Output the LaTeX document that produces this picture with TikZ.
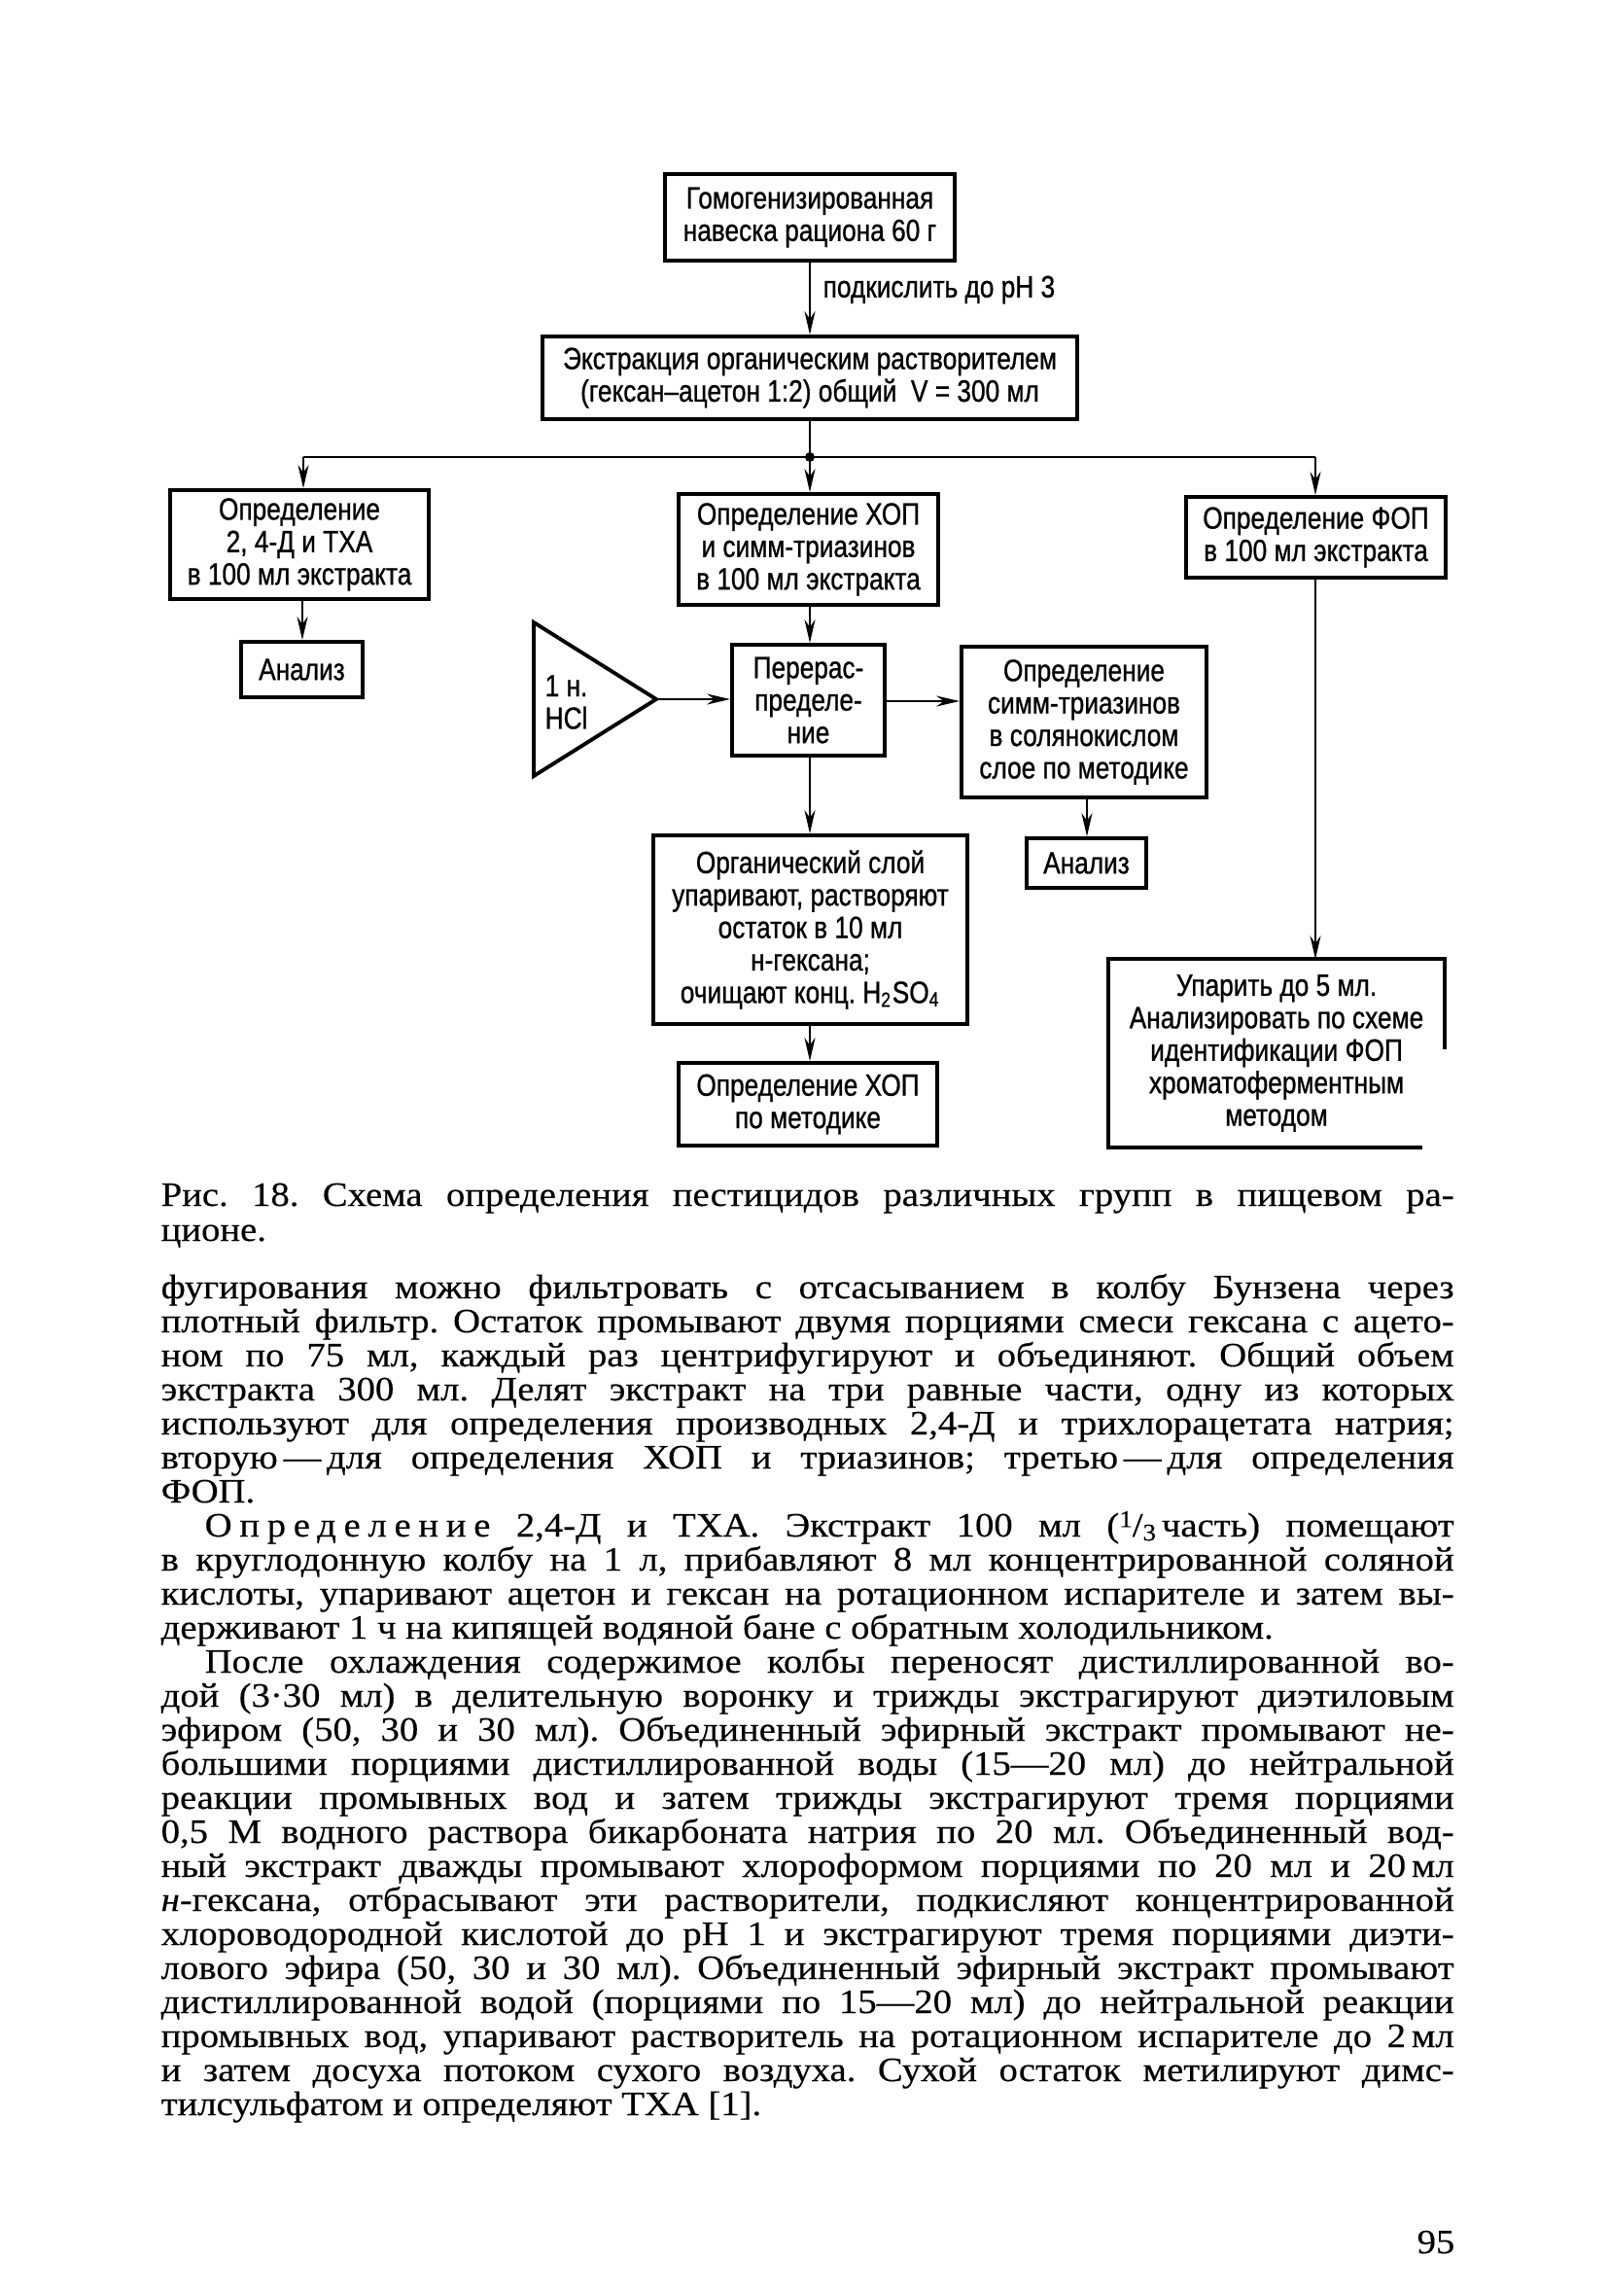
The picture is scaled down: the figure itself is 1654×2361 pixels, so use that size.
\documentclass[tikz,border=0pt]{standalone}
\usepackage{fontspec}
\setmainfont{Liberation Serif}
\newfontfamily\dgfont{Liberation Sans}[FakeStretch=0.83,FakeBold=0.8]
\newfontfamily\bodyfont{Liberation Serif}[FakeStretch=1.1,FakeBold=0.3]
\usetikzlibrary{arrows.meta,calc}
\frenchspacing
\newcommand\dgsize{\fontsize{9}{9.5}\selectfont}
\newcommand\bodysize{\fontsize{10}{12}\selectfont\frenchspacing}
\newcommand\jl[1]{\makebox[133mm][s]{#1}}
\tikzset{
  box/.style={draw, line width=1.1pt, inner sep=0pt, align=center, font=\dgfont\dgsize},
  plainbox/.style={inner sep=0pt, align=center, font=\dgfont\dgsize},
  boxline/.style={line width=1.1pt},
  arr/.style={line width=0.6pt, -{Stealth[length=2.4mm,width=1.1mm]}},
  ln/.style={line width=0.6pt},
  txt/.style={inner sep=0pt, anchor=base west, font=\bodyfont\bodysize},
  dglabel/.style={inner sep=0pt, font=\dgfont\dgsize},
}
\begin{document}
\begin{tikzpicture}[x=0.1mm, y=-0.1mm]
\useasboundingbox (0,0) rectangle (1654,2361);
\fill[white] (0,0) rectangle (1654,2361);

% ---------- boxes ----------
\node[box, minimum width=29.8mm, minimum height=8.9mm] (b1) at (833,223.5) {Гомогенизированная\\навеска рациона 60 г};
\node[box, minimum width=55mm, minimum height=8.5mm] (b2) at (833,388.5) {Экстракция органическим растворителем\\(гексан–ацетон 1:2) общий \ V = 300 мл};
\node[box, minimum width=26.6mm, minimum height=11.2mm] (bL) at (308,560) {Определение\\2, 4-Д и ТХА\\в 100 мл экстракта};
\node[box, minimum width=26.7mm, minimum height=11.4mm] (bM) at (831.5,565) {Определение ХОП\\и симм-триазинов\\в 100 мл экстракта};
\node[box, minimum width=26.7mm, minimum height=8.3mm] (bR) at (1353.5,552.5) {Определение ФОП\\в 100 мл экстракта};
\node[box, minimum width=12.5mm, minimum height=5.7mm] (aL) at (310.5,688.5) {Анализ};
\node[box, minimum width=15.7mm, minimum height=11.4mm] (bP) at (831.5,720) {Перерас-\\пределе-\\ние};
\node[box, minimum width=25.2mm, minimum height=15.5mm] (bS) at (1115,742.5) {Определение\\симм-триазинов\\в солянокислом\\слое по методике};
\node[box, minimum width=12.3mm, minimum height=5.1mm] (aM) at (1117.5,887.5) {Анализ};
\node[box, minimum width=32.3mm, minimum height=19.4mm] (bO) at (833.5,956) {Органический слой\\упаривают, растворяют\\остаток в 10 мл\\н-гексана;\\очищают конц. H\textsubscript{2}SO\textsubscript{4}};
\node[box, minimum width=26.6mm, minimum height=8.5mm] (bX) at (831,1135.5) {Определение ХОП\\по методике};
\node[plainbox, minimum width=34.4mm, minimum height=19.2mm] (bF) at (1313,1083) {Упарить до 5 мл.\\Анализировать по схеме\\идентификации ФОП\\хроматоферментным\\методом};
\draw[boxline] ([xshift=-2.3mm]bF.south east) -- (bF.south west) -- (bF.north west) -- (bF.north east) -- ([yshift=10.1mm]bF.south east);

% triangle 1 н. HCl
\draw[line width=1.1pt] (549,640) -- (549,798) -- (675,719) -- cycle;
\coordinate (tip) at (675,719);
\node[dglabel, anchor=west, align=left] (hcl) at (560,722) {1 н.\\HCl};

% ---------- connectors ----------
\node[dglabel, anchor=west] (acid) at (846,298) {подкислить до pH 3};
\draw[arr] (b1.south) -- (b2.north);
\coordinate (jM) at (833,470);
\coordinate (jL) at (312,470);
\coordinate (jR) at (1353,470);
\draw[ln] (b2.south) -- (jM);
\draw[ln] (jL) -- (jR);
\fill (jM) circle (0.5mm);
\draw[arr] (jL) -- (jL |- bL.north);
\draw[arr] (jM) -- (jM |- bM.north);
\draw[arr] (jR) -- (jR |- bR.north);
\coordinate (cL) at (311,616);
\draw[arr] (cL |- bL.south) -- (cL |- aL.north);
\draw[arr] (bM.south -| jM) -- (jM |- bP.north);
\draw[arr] (tip) -- (tip -| bP.west);
\coordinate (cP) at (910,721);
\draw[arr] (cP -| bP.east) -- (cP -| bS.west);
\coordinate (cS) at (1118,820);
\draw[arr] (cS |- bS.south) -- (cS |- aM.north);
\draw[arr] (bP.south -| jM) -- (jM |- bO.north);
\draw[arr] (bO.south -| jM) -- (jM |- bX.north);
\draw[arr] (bR.south -| jR) -- (jR |- bF.north);

% ---------- caption ----------
\node[txt] (cap1) at (165,1240) {\jl{Рис. 18. Схема определения пестицидов различных групп в пищевом ра-}};
\node[txt] (cap2) at (165,1276) {ционе.};

% ---------- body text ----------
\node[txt] (l1) at (165,1335) {\jl{фугирования можно фильтровать с отсасыванием в колбу Бунзена через}};
\node[txt] (l2) at (165,1370) {\jl{плотный фильтр. Остаток промывают двумя порциями смеси гексана с ацето-}};
\node[txt] (l3) at (165,1405) {\jl{ном по 75 мл, каждый раз центрифугируют и объединяют. Общий объем}};
\node[txt] (l4) at (165,1440) {\jl{экстракта 300 мл. Делят экстракт на три равные части, одну из которых}};
\node[txt] (l5) at (165,1475) {\jl{используют для определения производных 2,4-Д и трихлорацетата натрия;}};
\node[txt] (l6) at (165,1510) {\jl{вторую\,—\,для определения ХОП и триазинов; третью\,—\,для определения}};
\node[txt] (l7) at (165,1545) {ФОП.};
\node[txt] (l8) at (165,1580) {\jl{\hspace*{4.5mm}{\addfontfeature{LetterSpace=22}Определение} 2,4-Д и ТХА. Экстракт 100 мл ({\raisebox{0.6ex}{\fontsize{7}{7}\selectfont 1}/\raisebox{-0.25ex}{\fontsize{7}{7}\selectfont 3}}\,часть) помещают}};
\node[txt] (l9) at (165,1615) {\jl{в круглодонную колбу на 1 л, прибавляют 8 мл концентрированной соляной}};
\node[txt] (l10) at (165,1650) {\jl{кислоты, упаривают ацетон и гексан на ротационном испарителе и затем вы-}};
\node[txt] (l11) at (165,1685) {держивают 1 ч на кипящей водяной бане с обратным холодильником.};
\node[txt] (l12) at (165,1720) {\jl{\hspace*{4.5mm}После охлаждения содержимое колбы переносят дистиллированной во-}};
\node[txt] (l13) at (165,1755) {\jl{дой (3·30 мл) в делительную воронку и трижды экстрагируют диэтиловым}};
\node[txt] (l14) at (165,1790) {\jl{эфиром (50, 30 и 30 мл). Объединенный эфирный экстракт промывают не-}};
\node[txt] (l15) at (165,1825) {\jl{большими порциями дистиллированной воды (15—20 мл) до нейтральной}};
\node[txt] (l16) at (165,1860) {\jl{реакции промывных вод и затем трижды экстрагируют тремя порциями}};
\node[txt] (l17) at (165,1895) {\jl{0,5 М водного раствора бикарбоната натрия по 20 мл. Объединенный вод-}};
\node[txt] (l18) at (165,1930) {\jl{ный экстракт дважды промывают хлороформом порциями по 20 мл и 20\,мл}};
\node[txt] (l19) at (165,1965) {\jl{\textit{н}-гексана, отбрасывают эти растворители, подкисляют концентрированной}};
\node[txt] (l20) at (165,2000) {\jl{хлороводородной кислотой до pH 1 и экстрагируют тремя порциями диэти-}};
\node[txt] (l21) at (165,2035) {\jl{лового эфира (50, 30 и 30 мл). Объединенный эфирный экстракт промывают}};
\node[txt] (l22) at (165,2070) {\jl{дистиллированной водой (порциями по 15—20 мл) до нейтральной реакции}};
\node[txt] (l23) at (165,2105) {\jl{промывных вод, упаривают растворитель на ротационном испарителе до 2\,мл}};
\node[txt] (l24) at (165,2140) {\jl{и затем досуха потоком сухого воздуха. Сухой остаток метилируют димс-}};
\node[txt] (l25) at (165,2175) {тилсульфатом и определяют ТХА [1].};

% page number
\node[txt, anchor=base east] (pg) at (1497,2317) {95};
\end{tikzpicture}
\end{document}
